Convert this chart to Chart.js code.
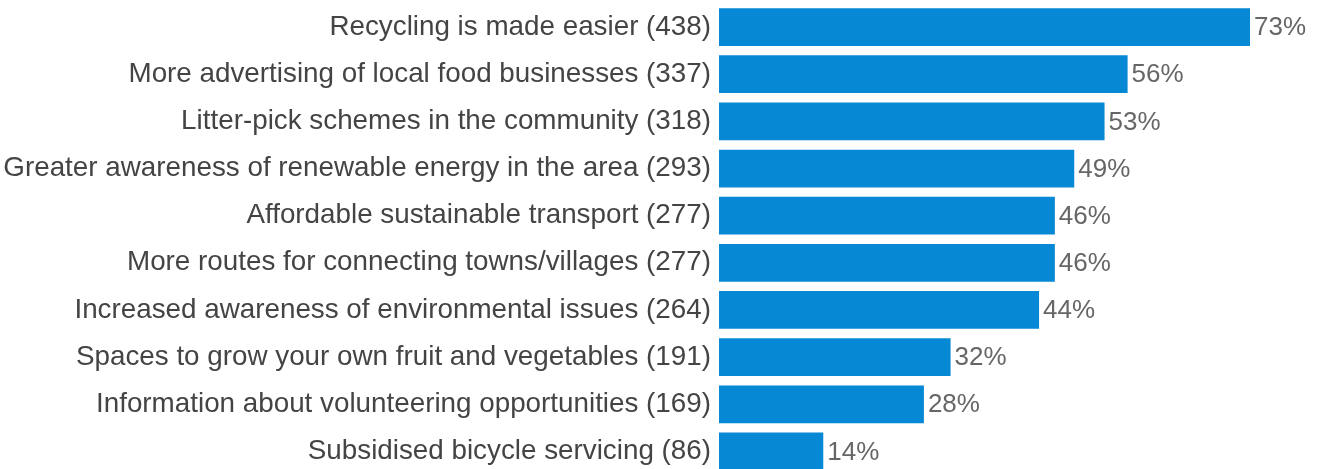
<!DOCTYPE html>
<html><head><meta charset="utf-8">
<style>html,body{margin:0;padding:0;background:#fff;overflow:hidden}#w{position:absolute;left:0;top:0;width:1324px;height:469px;overflow:hidden}</style>
<script src="https://cdn.jsdelivr.net/npm/chart.js@4"></script></head>
<body><div id="w"><canvas id="c" width="1324" height="475"></canvas></div>
<script>
const categories=["Recycling is made easier (438)","More advertising of local food businesses (337)","Litter-pick schemes in the community (318)","Greater awareness of renewable energy in the area (293)","Affordable sustainable transport (277)","More routes for connecting towns/villages (277)","Increased awareness of environmental issues (264)","Spaces to grow your own fruit and vegetables (191)","Information about volunteering opportunities (169)","Subsidised bicycle servicing (86)"];
const counts=[438,337,318,293,277,277,264,191,169,86];
const labels=["73%","56%","53%","49%","46%","46%","44%","32%","28%","14%"];
const barColor="#0688d4";
const valueLabels={id:"valueLabels",afterDatasetsDraw(ch){const m=ch.getDatasetMeta(0),g=ch.ctx;g.save();g.font='26px "Liberation Sans"';g.fillStyle="#666";g.textBaseline="middle";g.textAlign="left";m.data.forEach((b,i)=>g.fillText(labels[i],b.x+4,b.y+1));g.restore();}};
new Chart(document.getElementById("c"),{type:"bar",plugins:[valueLabels],data:{labels:categories,datasets:[{data:counts,backgroundColor:barColor,categoryPercentage:1,barPercentage:0.8}]},
options:{indexAxis:"y",responsive:false,animation:false,layout:{padding:{left:0,right:0,top:3.5,bottom:0}},plugins:{legend:{display:false},tooltip:{enabled:false}},
scales:{x:{display:false,min:0,max:499},y:{position:"left",afterFit(s){s.width=719;s.paddingTop=0;s.paddingBottom=0},grid:{display:false,drawTicks:false},border:{display:false},ticks:{color:"#444",font:{family:'"Liberation Sans"',size:27.8},padding:8,autoSkip:false}}}}});
</script></body></html>
